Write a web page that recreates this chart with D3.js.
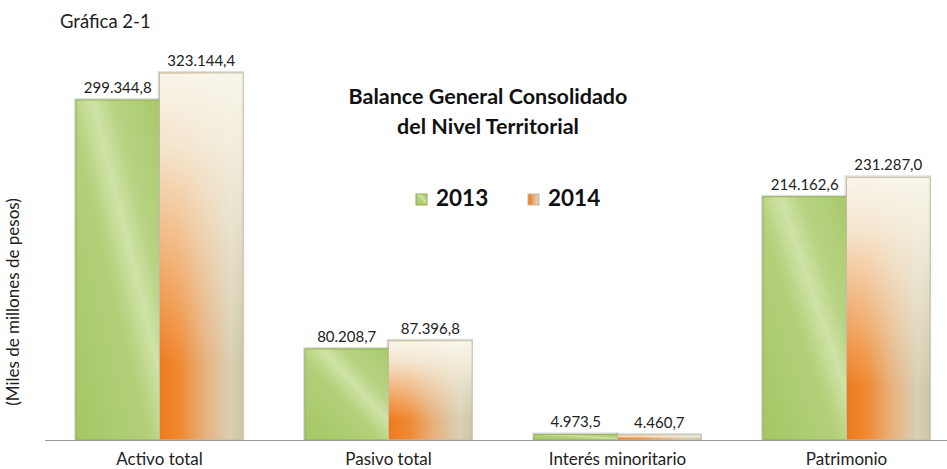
<!DOCTYPE html>
<html>
<head>
<meta charset="utf-8">
<script src="https://cdn.jsdelivr.net/npm/d3@7"></script>
<style>
  body { margin: 0; background: #fff; }
  svg { font-family: Lato, "Open Sans", sans-serif; }
</style>
</head>
<body>
<div id="chart"></div>
<script>
// Data
const categories = ["Activo total", "Pasivo total", "Interés minoritario", "Patrimonio"];
const years = ["2013", "2014"];
const values2013 = [299344.8, 80208.7, 4973.5, 214162.6];
const values2014 = [323144.4, 87396.8, 4460.7, 231287.0];

const width = 947, height = 469;
const baseY = 440;

const locale = d3.formatLocale({decimal: ",", thousands: ".", grouping: [3]});
const fmt = locale.format(",.1f");

const rows = categories.map((c, i) => ({
  cat: c,
  vals: [{year: "2013", v: values2013[i]}, {year: "2014", v: values2014[i]}]
}));

const svg = d3.select("#chart").append("svg")
  .attr("width", width)
  .attr("height", height);

// Gradients
const defs = svg.append("defs");
const g13 = defs.append("linearGradient").attr("id", "g2013")
  .attr("x1", 0).attr("y1", 1).attr("x2", 1).attr("y2", 0);
g13.append("stop").attr("offset", "0%").attr("stop-color", "#a6c664");
g13.append("stop").attr("offset", "45%").attr("stop-color", "#b3d07a");
g13.append("stop").attr("offset", "60%").attr("stop-color", "#cfe3a6");
g13.append("stop").attr("offset", "72%").attr("stop-color", "#b8d384");
g13.append("stop").attr("offset", "100%").attr("stop-color", "#a9c96b");

// 2014: orange on the left fading to beige, lightened towards the top
const g14 = defs.append("linearGradient").attr("id", "g2014")
  .attr("x1", 0).attr("y1", 0).attr("x2", 1).attr("y2", 0);
g14.append("stop").attr("offset", "0%").attr("stop-color", "#ef7a1c");
g14.append("stop").attr("offset", "25%").attr("stop-color", "#ef8a34");
g14.append("stop").attr("offset", "55%").attr("stop-color", "#e6b27e");
g14.append("stop").attr("offset", "85%").attr("stop-color", "#d9d0b4");
g14.append("stop").attr("offset", "100%").attr("stop-color", "#cec5a6");

const g14top = defs.append("linearGradient").attr("id", "g2014top")
  .attr("x1", 0).attr("y1", 0).attr("x2", 0).attr("y2", 1);
g14top.append("stop").attr("offset", "0%").attr("stop-color", "#f8f5ea").attr("stop-opacity", 1);
g14top.append("stop").attr("offset", "20%").attr("stop-color", "#f5f0e0").attr("stop-opacity", 0.9);
g14top.append("stop").attr("offset", "80%").attr("stop-color", "#f5f0e0").attr("stop-opacity", 0);

const fills = {"2013": "url(#g2013)", "2014": "url(#g2014)"};
const strokes = {"2013": "#8fae50", "2014": "#c4bca2"};

// Scales
const x0 = d3.scaleBand().domain(categories).range([45, 961]).padding(0);
const x1 = d3.scaleBand().domain(years).range([0, x0.bandwidth()])
  .paddingInner(0).paddingOuter(0.37);
const y = d3.scaleLinear().domain([0, 350000]).range([baseY, baseY - 350000 * 340 / 299344.8]);

// Title text
svg.append("text")
  .attr("x", 60).attr("y", 28)
  .attr("font-size", 18.5).attr("fill", "#222")
  .text("Gráfica 2-1");

svg.append("text")
  .attr("transform", "translate(19,302) rotate(-90)")
  .attr("text-anchor", "middle")
  .attr("font-size", 17).attr("fill", "#222")
  .text("(Miles de millones de pesos)");

const title = svg.append("text")
  .attr("text-anchor", "middle")
  .attr("font-size", 21.5).attr("font-weight", "bold").attr("fill", "#111");
title.append("tspan").attr("x", 488).attr("y", 104).text("Balance General Consolidado");
title.append("tspan").attr("x", 488).attr("y", 134).text("del Nivel Territorial");

// Bars
const groups = svg.append("g").selectAll("g")
  .data(rows)
  .enter().append("g")
  .attr("transform", d => "translate(" + x0(d.cat) + ",0)");

groups.selectAll("rect.shadow")
  .data(d => d.vals)
  .enter().append("rect")
  .attr("class", "shadow")
  .attr("x", d => x1(d.year) - 2)
  .attr("y", d => y(d.v) - 2)
  .attr("width", x1.bandwidth() + 3)
  .attr("height", d => baseY - y(d.v) + 2)
  .attr("fill", "#000")
  .attr("opacity", 0.12);

groups.selectAll("rect.bar")
  .data(d => d.vals)
  .enter().append("rect")
  .attr("class", "bar")
  .attr("x", d => x1(d.year))
  .attr("y", d => y(d.v))
  .attr("width", x1.bandwidth())
  .attr("height", d => baseY - y(d.v))
  .attr("fill", d => fills[d.year])
  .attr("stroke", d => strokes[d.year])
  .attr("stroke-width", 1);

groups.selectAll("rect.top")
  .data(d => d.vals.filter(v => v.year === "2014"))
  .enter().append("rect")
  .attr("class", "top")
  .attr("x", d => x1(d.year) + 0.5)
  .attr("y", d => y(d.v) + 0.5)
  .attr("width", x1.bandwidth() - 1)
  .attr("height", d => Math.max(0, baseY - y(d.v) - 1))
  .attr("fill", "url(#g2014top)");

groups.selectAll("text.val")
  .data(d => d.vals)
  .enter().append("text")
  .attr("class", "val")
  .attr("x", d => x1(d.year) + x1.bandwidth() / 2)
  .attr("y", d => y(d.v) - 7)
  .attr("text-anchor", "middle")
  .attr("font-size", 15).attr("fill", "#222")
  .text(d => fmt(d.v));

// Axis
svg.append("line")
  .attr("x1", 45).attr("x2", 947)
  .attr("y1", baseY + 0.5).attr("y2", baseY + 0.5)
  .attr("stroke", "#9a9a9a").attr("stroke-width", 1);

svg.append("g").selectAll("text")
  .data(categories)
  .enter().append("text")
  .attr("x", d => x0(d) + x0.bandwidth() / 2)
  .attr("y", 465)
  .attr("text-anchor", "middle")
  .attr("font-size", 17).attr("fill", "#222")
  .text(d => d);

// Legend
const legend = svg.append("g").selectAll("g")
  .data(years)
  .enter().append("g")
  .attr("transform", (d, i) => "translate(" + (416 + i * 112) + ",194)");

legend.append("rect")
  .attr("width", 11).attr("height", 11)
  .attr("fill", d => fills[d])
  .attr("stroke", d => strokes[d]);

legend.append("text")
  .attr("x", 20).attr("y", 12)
  .attr("font-size", 22.5).attr("font-weight", "bold").attr("fill", "#111")
  .text(d => d);
</script>
</body>
</html>
